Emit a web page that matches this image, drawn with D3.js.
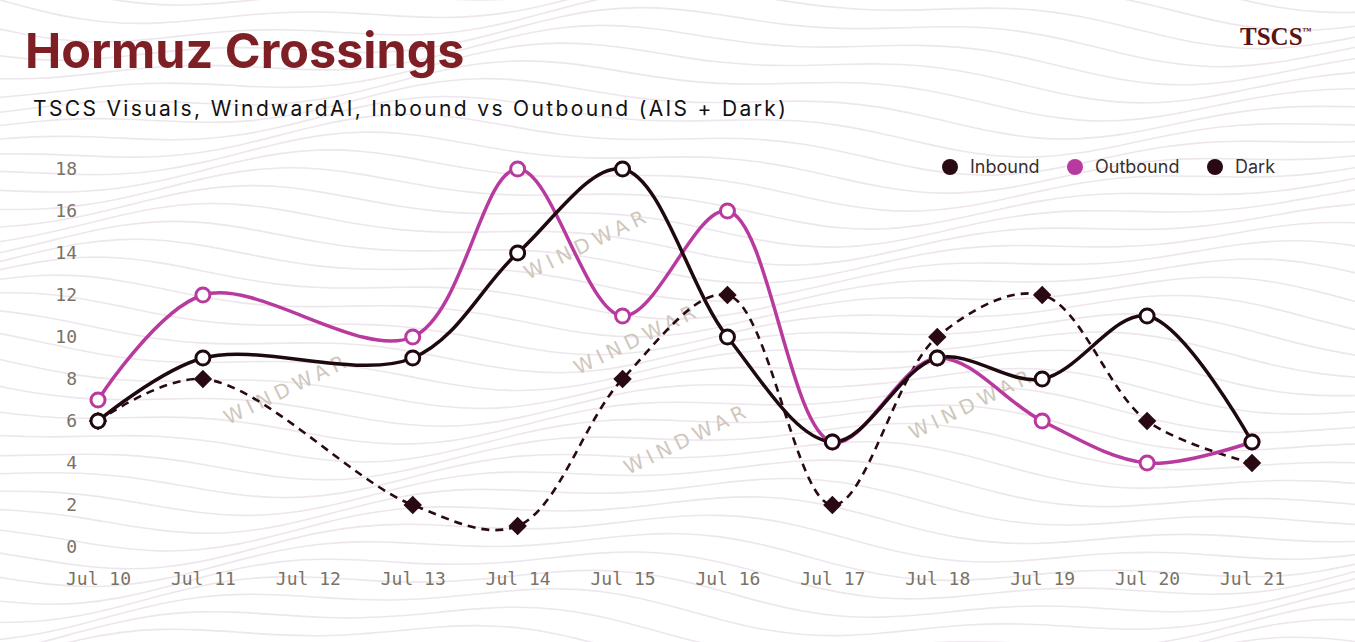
<!DOCTYPE html>
<html>
<head>
<meta charset="utf-8">
<script src="https://cdn.jsdelivr.net/npm/d3@7"></script>
<style>
  body { margin: 0; background: #fff; }
  svg { display: block; }
</style>
</head>
<body>
<div id="wrapper"></div>
<script>
// dates on the x axis (Jul 12 has no reading)
const dates = ["2024-07-10","2024-07-11","2024-07-12","2024-07-13","2024-07-14","2024-07-15",
               "2024-07-16","2024-07-17","2024-07-18","2024-07-19","2024-07-20","2024-07-21"];
const inbound  = [6, 9, null, 9, 14, 18, 10, 5, 9, 8, 11, 5];
const outbound = [7, 12, null, 10, 18, 11, 16, 5, 9, 6, 4, 5];
const dark     = [6, 8, null, 2, 1, 8, 12, 2, 10, 12, 6, 4];
const yTicks = [0, 2, 4, 6, 8, 10, 12, 14, 16, 18];
const seriesNames = ["Inbound", "Outbound", "Dark"];

function buildPlot() {
    const dateParser = d3.timeParse("%Y-%m-%d");
    const days = dates.map(dateParser);

    var dimension = {
        width: 1355,
        height: 642,
        margin: { top: 169, left: 98, bottom: 95, right: 103 }
    };

    const svg = d3.select("#wrapper").append("svg")
        .attr("width", dimension.width)
        .attr("height", dimension.height);

    //decorative contour texture in the background
    const deco = svg.append("g").attr("fill", "none").attr("stroke", "#ede6ec").attr("stroke-width", 1.6);
    const waveLine = d3.line().curve(d3.curveBasis);
    d3.range(-10, 40).forEach(i => {
        const y0 = i * 18;
        const pts = d3.range(0, 1400, 40).map(x => [x, y0 + 22 * Math.sin(x / 170 + i * 0.25) + 10 * Math.sin(x / 63 + i * 0.6)]);
        deco.append("path").attr("d", waveLine(pts));
    });

    //watermark text
    const marks = [[590, 250], [640, 345], [690, 445], [290, 395], [975, 410]];
    svg.append("g").selectAll("text").data(marks).join("text")
        .attr("transform", d => `translate(${d[0]},${d[1]}) rotate(-26)`)
        .attr("text-anchor", "middle")
        .attr("font-family", "DejaVu Sans")
        .attr("font-size", 20)
        .attr("letter-spacing", 5)
        .attr("fill", "#cfc7bc")
        .text("WINDWAR");

    //titles
    svg.append("text").attr("x", 25).attr("y", 68)
        .attr("font-family", "Inter").attr("font-weight", 700).attr("font-size", 48.5)
        .attr("fill", "#7d1f24").text("Hormuz Crossings");
    svg.append("text").attr("x", 33).attr("y", 116)
        .attr("font-family", "Inter").attr("font-size", 21).attr("letter-spacing", 2.35)
        .attr("fill", "#111").text("TSCS Visuals, WindwardAI, Inbound vs Outbound (AIS + Dark)");
    const brand = svg.append("text").attr("x", 1240).attr("y", 45)
        .attr("font-family", "Liberation Serif").attr("font-weight", 700).attr("font-size", 25)
        .attr("fill", "#5a1212");
    brand.append("tspan").text("TSCS");
    brand.append("tspan").attr("font-size", 9).attr("dy", -11).text("™");

    //scales
    const xScaler = d3.scaleTime()
        .domain(d3.extent(days))
        .range([dimension.margin.left, dimension.width - dimension.margin.right]);
    const yScaler = d3.scaleLinear()
        .domain([0, 18])
        .range([547, dimension.margin.top]);

    //axes (labels only)
    const yAxis = svg.append("g")
        .attr("transform", "translate(86,0)")
        .call(d3.axisLeft(yScaler).tickValues(yTicks).tickSize(0).tickPadding(9));
    yAxis.select(".domain").remove();
    yAxis.selectAll("text")
        .attr("font-family", "DejaVu Sans Mono").attr("font-size", 18).attr("fill", "#7a7266");

    const xAxis = svg.append("g")
        .attr("transform", "translate(0,566)")
        .call(d3.axisBottom(xScaler).tickValues(days).tickFormat(d3.timeFormat("Jul %-d")).tickSize(0).tickPadding(6));
    xAxis.select(".domain").remove();
    xAxis.selectAll("text")
        .attr("font-family", "DejaVu Sans Mono").attr("font-size", 18).attr("fill", "#7a7266");

    //lines
    const toPoints = vals => vals.map((v, i) => ({ date: days[i], value: v })).filter(d => d.value !== null);
    const lineGenerator = d3.line()
        .x(d => xScaler(d.date))
        .y(d => yScaler(d.value))
        .curve(d3.curveCatmullRom.alpha(0.5));

    const darkPts = toPoints(dark);
    const inPts = toPoints(inbound);
    const outPts = toPoints(outbound);

    svg.append("path")
        .attr("d", lineGenerator(darkPts))
        .attr("fill", "none")
        .attr("stroke", "#2a0a12")
        .attr("stroke-width", 2.6)
        .attr("stroke-dasharray", "8,6");

    svg.append("path")
        .attr("d", lineGenerator(outPts))
        .attr("fill", "none")
        .attr("stroke", "#b93a9f")
        .attr("stroke-width", 3.5);

    svg.append("path")
        .attr("d", lineGenerator(inPts))
        .attr("fill", "none")
        .attr("stroke", "#1e0a0e")
        .attr("stroke-width", 3.5);

    //markers
    svg.append("g").selectAll("path").data(darkPts).join("path")
        .attr("d", d3.symbol(d3.symbolSquare, 170))
        .attr("transform", d => `translate(${xScaler(d.date)},${yScaler(d.value)}) rotate(45)`)
        .attr("fill", "#2a0a12");

    svg.append("g").selectAll("circle").data(outPts).join("circle")
        .attr("cx", d => xScaler(d.date))
        .attr("cy", d => yScaler(d.value))
        .attr("r", 7)
        .attr("fill", "#fff")
        .attr("stroke", "#b93a9f")
        .attr("stroke-width", 3);

    svg.append("g").selectAll("circle").data(inPts).join("circle")
        .attr("cx", d => xScaler(d.date))
        .attr("cy", d => yScaler(d.value))
        .attr("r", 7)
        .attr("fill", "#fff")
        .attr("stroke", "#1e0a0e")
        .attr("stroke-width", 3);

    //legend
    const legendColors = ["#2a0a12", "#b93a9f", "#2a0a12"];
    const legendX = [950, 1075, 1215];
    const legend = svg.append("g").selectAll("g").data(seriesNames).join("g")
        .attr("transform", (d, i) => `translate(${legendX[i]},167)`);
    legend.append("circle").attr("r", 8).attr("fill", (d, i) => legendColors[i]);
    legend.append("text").attr("x", 20).attr("dy", "0.35em")
        .attr("font-family", "Inter").attr("font-size", 18).attr("fill", "#3a3030")
        .text(d => d);
}

buildPlot();
</script>
</body>
</html>
